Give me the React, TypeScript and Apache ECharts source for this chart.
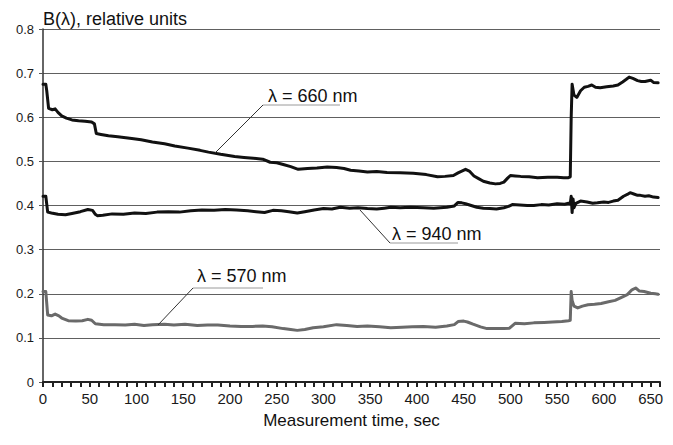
import React, { useEffect, useRef } from "react";
import * as echarts from "echarts";

// λ = 660 nm
const t660 = [0, 3, 4, 6, 10, 13, 16, 20, 25, 31, 38, 45, 52, 55, 57, 62, 70, 80, 95, 105, 117, 130, 141, 155, 168, 177, 190, 205, 215, 225, 235, 243, 250, 257, 265, 273, 283, 293, 304, 314, 322, 329, 338, 347, 357, 368, 382, 396, 410, 422, 430, 439, 444, 448, 452, 456, 461, 466, 471, 478, 484, 489, 493, 497, 500, 505, 511, 520, 529, 540, 550, 557, 562, 564, 565, 566, 568, 571, 575, 579, 583, 587, 591, 596, 603, 610, 615, 620, 624, 627, 631, 636, 640, 644, 650, 653, 658];
const v660 = [0.675, 0.675, 0.66, 0.62, 0.617, 0.619, 0.611, 0.603, 0.598, 0.594, 0.592, 0.591, 0.589, 0.585, 0.563, 0.561, 0.558, 0.556, 0.552, 0.549, 0.544, 0.54, 0.535, 0.53, 0.525, 0.521, 0.516, 0.511, 0.509, 0.507, 0.505, 0.498, 0.497, 0.493, 0.488, 0.482, 0.484, 0.485, 0.487, 0.486, 0.484, 0.48, 0.478, 0.476, 0.477, 0.475, 0.474, 0.473, 0.47, 0.465, 0.466, 0.468, 0.474, 0.478, 0.482, 0.478, 0.467, 0.461, 0.455, 0.451, 0.449, 0.45, 0.453, 0.462, 0.468, 0.467, 0.466, 0.465, 0.463, 0.464, 0.464, 0.463, 0.463, 0.465, 0.6, 0.675, 0.65, 0.645, 0.66, 0.668, 0.67, 0.673, 0.668, 0.667, 0.669, 0.671, 0.673, 0.68, 0.686, 0.691, 0.688, 0.683, 0.681, 0.681, 0.684, 0.679, 0.678];

// λ = 940 nm
const t940 = [0, 3, 5, 9, 16, 24, 31, 40, 48, 53, 56, 58, 64, 74, 86, 98, 110, 122, 134, 146, 158, 170, 183, 195, 207, 219, 228, 237, 246, 255, 263, 272, 280, 290, 300, 309, 318, 328, 337, 347, 357, 365, 372, 382, 393, 407, 418, 432, 440, 444, 448, 452, 458, 464, 471, 478, 485, 493, 498, 502, 510, 518, 525, 533, 541, 550, 558, 562, 564, 565, 566, 567, 568, 570, 575, 582, 588, 593, 600, 605, 610, 615, 621, 625, 628, 632, 636, 639, 644, 648, 653, 658];
const v940 = [0.421, 0.421, 0.385, 0.383, 0.38, 0.379, 0.382, 0.386, 0.391, 0.389, 0.38, 0.377, 0.378, 0.381, 0.38, 0.383, 0.382, 0.385, 0.386, 0.385, 0.388, 0.39, 0.389, 0.391, 0.39, 0.388, 0.386, 0.384, 0.389, 0.388, 0.386, 0.383, 0.386, 0.39, 0.393, 0.392, 0.396, 0.394, 0.395, 0.393, 0.392, 0.394, 0.396, 0.395, 0.396, 0.395, 0.394, 0.396, 0.399, 0.407, 0.406, 0.404, 0.4, 0.396, 0.394, 0.393, 0.392, 0.395, 0.398, 0.402, 0.401, 0.4, 0.4, 0.402, 0.401, 0.404, 0.403, 0.405, 0.404, 0.421, 0.384, 0.415, 0.395, 0.405, 0.41, 0.408, 0.405, 0.406, 0.408, 0.407, 0.41, 0.412, 0.421, 0.425, 0.429, 0.426, 0.423, 0.423, 0.421, 0.422, 0.419, 0.418];

// λ = 570 nm
const t570 = [0, 3, 5, 9, 13, 17, 20, 27, 35, 42, 48, 52, 56, 65, 77, 88, 98, 108, 117, 130, 140, 152, 165, 176, 187, 200, 212, 224, 235, 245, 257, 265, 272, 280, 289, 300, 314, 325, 336, 347, 360, 372, 384, 395, 407, 420, 432, 440, 444, 450, 454, 460, 468, 475, 485, 493, 499, 505, 515, 525, 536, 545, 555, 562, 564, 565, 566, 568, 572, 577, 583, 590, 597, 605, 612, 620, 625, 630, 634, 638, 643, 650, 655, 658];
const v570 = [0.205, 0.205, 0.152, 0.15, 0.154, 0.15, 0.145, 0.139, 0.138, 0.139, 0.142, 0.14, 0.132, 0.13, 0.13, 0.129, 0.131, 0.128, 0.13, 0.131, 0.129, 0.131, 0.128, 0.129, 0.129, 0.127, 0.126, 0.126, 0.127, 0.125, 0.121, 0.119, 0.117, 0.119, 0.123, 0.125, 0.13, 0.128, 0.126, 0.127, 0.125, 0.123, 0.124, 0.125, 0.126, 0.124, 0.127, 0.13, 0.137, 0.138, 0.136, 0.131, 0.125, 0.121, 0.121, 0.121, 0.122, 0.133, 0.132, 0.134, 0.135, 0.136, 0.137, 0.139, 0.14, 0.205, 0.185, 0.172, 0.168, 0.172, 0.175, 0.176, 0.178, 0.182, 0.185, 0.193, 0.198, 0.209, 0.213, 0.206, 0.205, 0.201, 0.2, 0.199];

const yTickValues = [0, 0.1, 0.2, 0.3, 0.4, 0.5, 0.6, 0.7, 0.8];
const yTitle = "B(λ), relative units";
const xTitle = "Measurement time, sec";
const labels = ["λ = 660 nm", "λ = 940 nm", "λ = 570 nm"];

const FONT = '"Liberation Sans", Arial, sans-serif';
const NARROW = '"Liberation Sans Narrow", "Arial Narrow", "Liberation Sans", sans-serif';

export default function App() {
  const ref = useRef<HTMLDivElement>(null);
  useEffect(() => {
    const chart = echarts.init(ref.current!, null, { renderer: "svg" });
    const zip = (t: number[], v: number[]) => t.map((x, i) => [x, v[i]]);
    const lineSeries = (name: string, t: number[], v: number[], color: string, z: number) => ({
      name,
      type: "line",
      data: zip(t, v),
      showSymbol: false,
      symbol: "none",
      z,
      lineStyle: { color, width: 3, join: "round", cap: "round" },
    });
    const ann = (text: string, tx: number, ty: number, ux1: number, ux2: number, uy: number, lx: number, ly: number) => [
      { type: "line", shape: { x1: ux1, y1: uy, x2: ux2, y2: uy }, style: { stroke: "#9a9a9a", lineWidth: 1 }, z: 50 },
      { type: "line", shape: { x1: ux1, y1: uy, x2: lx, y2: ly }, style: { stroke: "#333", lineWidth: 1 }, z: 50 },
      { type: "text", x: tx, y: ty, style: { text, font: `18px ${FONT}`, fill: "#111", verticalAlign: "middle" }, z: 50 },
    ];
    chart.setOption({
      animation: false,
      backgroundColor: "#fff",
      grid: { left: 43, top: 29, right: 13, bottom: 63, containLabel: false },
      xAxis: {
        type: "value",
        min: 0,
        max: 660,
        interval: 50,
        name: xTitle,
        nameLocation: "middle",
        nameGap: 30,
        nameTextStyle: { fontFamily: FONT, fontSize: 17, color: "#111" },
        axisLine: { show: true, lineStyle: { color: "#222", width: 2 } },
        axisTick: { show: true, inside: false, length: 5, lineStyle: { color: "#222", width: 2 } },
        minorTick: { show: true, splitNumber: 5, length: 5, lineStyle: { color: "#222", width: 2 } },
        axisLabel: { fontFamily: NARROW, fontSize: 15, color: "#1a1a1a", margin: 9, formatter: (v: number) => (v > 650 ? "" : String(v)) },
        splitLine: { show: false },
      },
      yAxis: {
        type: "value",
        min: 0,
        max: 0.8,
        interval: 0.1,
        axisLine: { show: true, lineStyle: { color: "#333", width: 1.5 } },
        axisTick: { show: true, inside: false, length: 4, lineStyle: { color: "#555", width: 1 } },
        axisLabel: {
          fontFamily: FONT,
          fontSize: 13,
          color: "#1a1a1a",
          margin: 9,
          formatter: (v: number) => {
            const m = yTickValues.find((y) => Math.abs(y - v) < 1e-6);
            const val = m === undefined ? v : m;
            return val === 0 ? "0" : val.toFixed(1);
          },
        },
        splitLine: { show: true, lineStyle: { color: "#606060", width: 1 } },
      },
      series: [
        lineSeries("660 nm", t660, v660, "#111", 3),
        lineSeries("940 nm", t940, v940, "#111", 3),
        lineSeries("570 nm", t570, v570, "#6a6a6a", 2),
      ],
      graphic: [
        { type: "rect", shape: { x: 100, y: 26, width: 9, height: 6 }, style: { fill: "#fff" }, z: 40 },
        { type: "text", x: 43, y: 19, style: { text: yTitle, font: `18px ${FONT}`, fill: "#111", verticalAlign: "middle" }, z: 50 },
        ...ann(labels[0], 268, 96, 263, 340, 105, 215, 153),
        ...ann(labels[1], 392, 234, 390, 458, 243, 360, 210),
        ...ann(labels[2], 197, 276, 193, 263, 288, 158, 325),
      ],
    });
    return () => chart.dispose();
  }, []);
  return <div ref={ref} style={{ position: "absolute", left: 0, top: 0, width: 673, height: 445 }} />;
}
